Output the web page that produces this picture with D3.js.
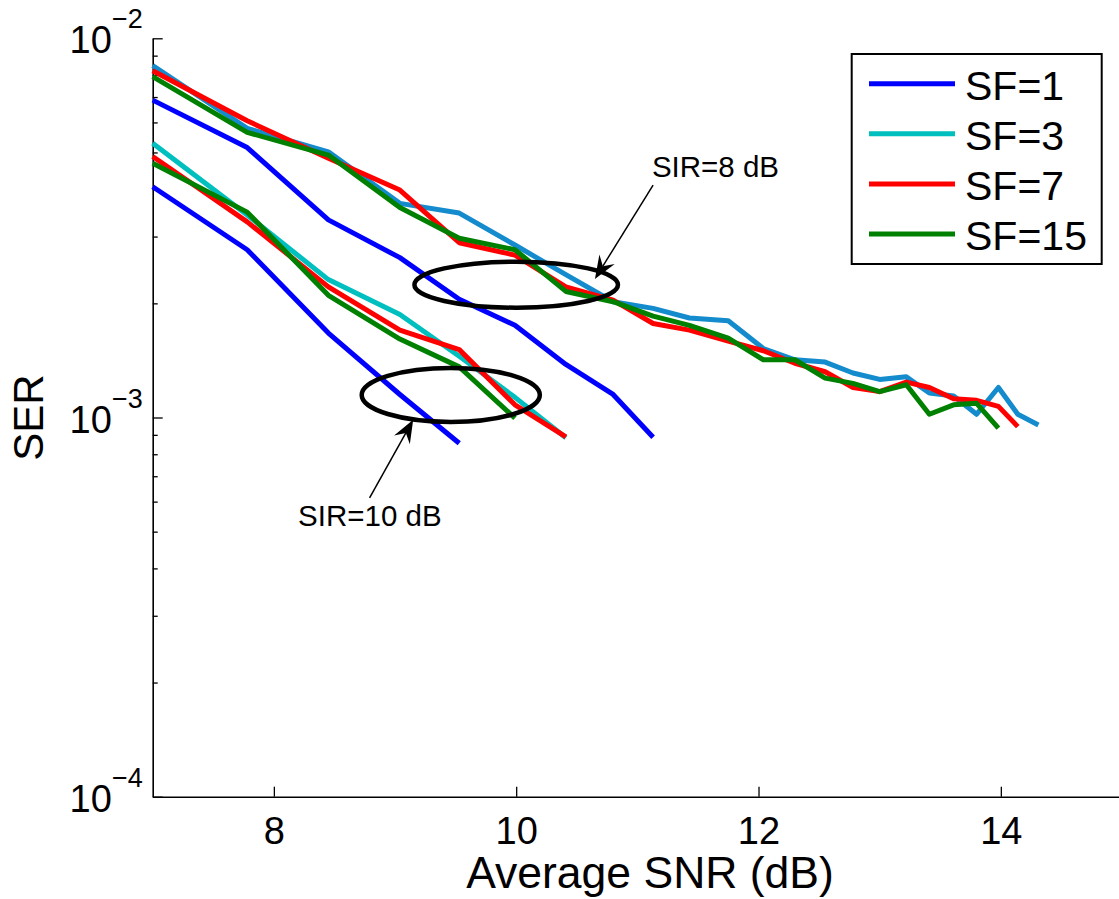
<!DOCTYPE html>
<html>
<head>
<meta charset="utf-8">
<script src="https://cdn.jsdelivr.net/npm/d3@7"></script>
<style>
  html, body { margin: 0; padding: 0; background: #fff; }
  svg { display: block; font-family: "Liberation Sans", Arial, sans-serif; }
</style>
</head>
<body>
<svg id="canvas" width="1119" height="899"></svg>
<script>
// average SNR grid (dB), shared by every curve
const snrDb = [7.00, 7.78, 8.45, 9.04, 9.53, 9.99, 10.41, 10.80, 11.13, 11.43, 11.75, 12.04,
               12.30, 12.55, 12.78, 13.00, 13.22, 13.41, 13.61, 13.80, 13.98, 14.14, 14.31];

// SIR = 8 dB
const ser8_sf1  = [6.87e-3, 5.15e-3, 3.32e-3, 2.64e-3, 2.05e-3, 1.75e-3, 1.38e-3, 1.15e-3, 8.87e-4];
const ser8_sf3  = [8.47e-3, 5.79e-3, 5.02e-3, 3.67e-3, 3.46e-3, 2.85e-3, 2.38e-3, 2.02e-3, 1.94e-3,
                   1.83e-3, 1.80e-3, 1.52e-3, 1.42e-3, 1.40e-3, 1.31e-3, 1.26e-3, 1.28e-3, 1.16e-3,
                   1.14e-3, 1.02e-3, 1.20e-3, 1.02e-3, 9.56e-4];
const ser8_sf7  = [8.21e-3, 6.06e-3, 4.83e-3, 3.98e-3, 2.89e-3, 2.68e-3, 2.21e-3, 2.04e-3, 1.77e-3,
                   1.70e-3, 1.59e-3, 1.50e-3, 1.39e-3, 1.32e-3, 1.20e-3, 1.17e-3, 1.24e-3, 1.20e-3,
                   1.12e-3, 1.11e-3, 1.07e-3, 9.46e-4];
const ser8_sf15 = [7.92e-3, 5.65e-3, 4.92e-3, 3.58e-3, 2.97e-3, 2.77e-3, 2.15e-3, 2.02e-3, 1.85e-3,
                   1.75e-3, 1.62e-3, 1.42e-3, 1.42e-3, 1.27e-3, 1.23e-3, 1.17e-3, 1.22e-3, 1.02e-3,
                   1.08e-3, 1.09e-3, 9.37e-4];

// SIR = 10 dB
const ser10_sf1  = [4.06e-3, 2.77e-3, 1.67e-3, 1.15e-3, 8.55e-4];
const ser10_sf3  = [5.29e-3, 3.42e-3, 2.31e-3, 1.87e-3, 1.45e-3, 1.13e-3, 8.84e-4];
const ser10_sf7  = [4.88e-3, 3.28e-3, 2.21e-3, 1.70e-3, 1.51e-3, 1.08e-3, 8.89e-4];
const ser10_sf15 = [4.68e-3, 3.48e-3, 2.10e-3, 1.61e-3, 1.36e-3, 9.96e-4];

const legendLabels = ["SF=1", "SF=3", "SF=7", "SF=15"];
const legendColors = ["#0000ff", "#00bfbf", "#ff0000", "#008000"];
const xTicks = [8, 10, 12, 14];
const yDecades = [1e-4, 1e-3, 1e-2];
const yExp = ["\u22124", "\u22123", "\u22122"];

// plotting order: SF=1, SF=3, SF=7, SF=15
const curves = [
  { ser: ser8_sf1, color: "#0000ff" },
  { ser: ser10_sf1, color: "#0000ff" },
  { ser: ser8_sf3, color: "#138bcc" },
  { ser: ser10_sf3, color: "#00bfbf" },
  { ser: ser8_sf7, color: "#ff0000" },
  { ser: ser10_sf7, color: "#ff0000" },
  { ser: ser8_sf15, color: "#008000" },
  { ser: ser10_sf15, color: "#008000" }
];

const svg = d3.select("#canvas");

const x = d3.scaleLinear().domain([7, 15]).range([152.7, 1122]);
const y = d3.scaleLog().domain([1e-4, 1e-2]).range([796.7, 38.3]);

// x axis, ticks pointing into the plot
const xAxis = svg.append("g")
  .attr("transform", "translate(0," + y(1e-4) + ")")
  .call(d3.axisBottom(x).tickValues(xTicks).tickSizeInner(-10).tickSizeOuter(0).tickPadding(20)
    .tickFormat(d3.format("d")));
xAxis.select(".domain").attr("stroke-width", 1.6);
xAxis.selectAll(".tick line").attr("stroke-width", 1.3);
xAxis.selectAll(".tick text")
  .attr("font-size", 38).attr("font-family", "Liberation Sans, Arial, sans-serif")
  .attr("fill", "#000").attr("dy", "0.71em");

// y axis, log with minor ticks
let yTickVals = [];
for (let k = -4; k < -2; k++) {
  for (let m = 1; m < 10; m++) yTickVals.push(m * Math.pow(10, k));
}
yTickVals.push(1e-2);
const yAxis = svg.append("g")
  .attr("transform", "translate(" + x(7) + ",0)")
  .call(d3.axisLeft(y).tickValues(yTickVals).tickSizeInner(-5).tickSizeOuter(0).tickFormat(""));
yAxis.select(".domain").attr("stroke-width", 1.6);
yAxis.selectAll(".tick line")
  .attr("stroke-width", 1.3)
  .attr("x2", d => (yDecades.some(v => Math.abs(v - d) < 1e-12) ? 10 : 5));

const yLab = svg.append("g");
yDecades.forEach((v, i) => {
  const t = yLab.append("text")
    .attr("x", x(7) - 10)
    .attr("y", y(v) + 15)
    .attr("text-anchor", "end")
    .attr("font-size", 38);
  t.append("tspan").text("10");
  t.append("tspan").attr("font-size", 27).attr("dy", -25).text(yExp[i]);
});

// axis titles
svg.append("text")
  .attr("x", 650).attr("y", 888)
  .attr("text-anchor", "middle")
  .attr("font-size", 44.5)
  .text("Average SNR (dB)");

svg.append("text")
  .attr("transform", "translate(43," + y(1e-3) + ") rotate(-90)")
  .attr("text-anchor", "middle")
  .attr("font-size", 42)
  .text("SER");

// curves
const line = d3.line()
  .x((d, i) => x(snrDb[i]))
  .y(d => y(d));

svg.append("g").selectAll("path")
  .data(curves)
  .join("path")
  .attr("d", d => line(d.ser))
  .attr("fill", "none")
  .attr("stroke", d => d.color)
  .attr("stroke-width", 5)
  .attr("stroke-linejoin", "round");

// annotations: ellipse + arrow + label
const notes = [
  { cx: 10.0, cy: 2.24e-3, rx: 0.84, ry: 23, tail: [11.13, 4.10e-3], tip: [10.65, 2.32e-3],
    label: "SIR=8 dB", lx: 11.12, ly: 4.32e-3 },
  { cx: 9.46, cy: 1.147e-3, rx: 0.735, ry: 27, tail: [8.79, 6.14e-4], tip: [9.15, 9.86e-4],
    label: "SIR=10 dB", lx: 8.20, ly: 5.16e-4 }
];

const ann = svg.append("g");
notes.forEach(n => {
  ann.append("ellipse")
    .attr("cx", x(n.cx)).attr("cy", y(n.cy))
    .attr("rx", x(n.cx + n.rx) - x(n.cx)).attr("ry", n.ry)
    .attr("fill", "none").attr("stroke", "#000").attr("stroke-width", 4.5);

  const x0 = x(n.tail[0]), y0 = y(n.tail[1]);
  const x1 = x(n.tip[0]), y1 = y(n.tip[1]);
  const len = Math.hypot(x1 - x0, y1 - y0);
  const ux = (x1 - x0) / len, uy = (y1 - y0) / len;
  const nx = -uy, ny = ux;
  const L = 23, W = 9, B = 15;
  ann.append("line")
    .attr("x1", x0).attr("y1", y0)
    .attr("x2", x1 - ux * B).attr("y2", y1 - uy * B)
    .attr("stroke", "#000").attr("stroke-width", 1.5);
  const head = [
    [x1, y1],
    [x1 - ux * L + nx * W, y1 - uy * L + ny * W],
    [x1 - ux * B, y1 - uy * B],
    [x1 - ux * L - nx * W, y1 - uy * L - ny * W]
  ];
  ann.append("path")
    .attr("d", "M" + head.map(p => p.join(",")).join("L") + "Z")
    .attr("fill", "#000");

  ann.append("text")
    .attr("x", x(n.lx)).attr("y", y(n.ly))
    .attr("font-size", 29.5)
    .text(n.label);
});

// legend
const lg = svg.append("g");
lg.append("rect")
  .attr("x", 851.7).attr("y", 54).attr("width", 250).attr("height", 210)
  .attr("fill", "#fff").attr("stroke", "#000").attr("stroke-width", 2);
legendLabels.forEach((lab, i) => {
  const ry = 83.7 + i * 50.1;
  lg.append("line")
    .attr("x1", 869).attr("x2", 955).attr("y1", ry).attr("y2", ry)
    .attr("stroke", legendColors[i]).attr("stroke-width", 5);
  lg.append("text")
    .attr("x", 965).attr("y", ry + 16)
    .attr("font-size", 41)
    .text(lab);
});
</script>
</body>
</html>
